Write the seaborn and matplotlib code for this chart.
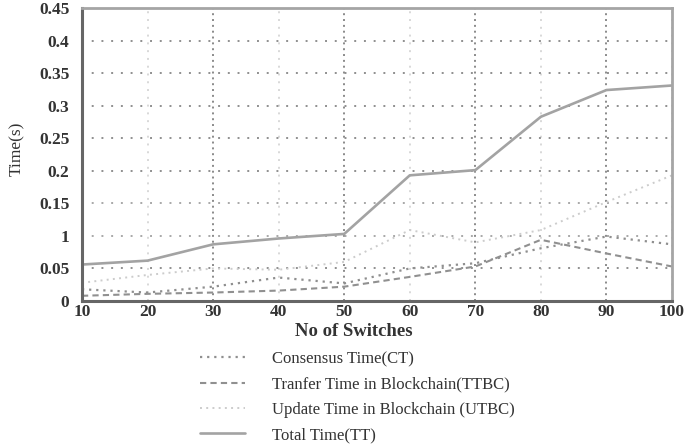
import matplotlib
matplotlib.use("Agg")
import matplotlib.pyplot as plt
import seaborn as sns
import numpy as np

# Number of switches on the x axis
switches = [10, 20, 30, 40, 50, 60, 70, 80, 90, 100]

# Time components in seconds
consensus_time = [0.018, 0.013, 0.022, 0.036, 0.027, 0.050, 0.058, 0.081, 0.099, 0.087]
transfer_time = [0.008, 0.011, 0.013, 0.016, 0.022, 0.037, 0.053, 0.094, 0.073, 0.053]
update_time = [0.028, 0.040, 0.050, 0.048, 0.060, 0.109, 0.090, 0.109, 0.152, 0.193]
total_time = [0.056, 0.062, 0.087, 0.096, 0.103, 0.193, 0.201, 0.283, 0.324, 0.331]

series_labels = [
    "Consensus Time(CT)",
    "Tranfer Time in Blockchain(TTBC)",
    "Update Time in Blockchain (UTBC)",
    "Total Time(TT)",
]

y_ticks = [0, 0.05, 0.1, 0.15, 0.2, 0.25, 0.3, 0.35, 0.4, 0.45]
y_tick_labels = ["0", "0.05", "1", "0.15", "0.2", "0.25", "0.3", "0.35", "0.4", "0.45"]

sns.set_style("white")
plt.rcParams["font.family"] = ["Liberation Serif", "DejaVu Serif"]

fig = plt.figure(figsize=(6.86, 4.45), dpi=100)
ax = fig.add_axes([0.1195, 0.3236, 0.8601, 0.6584])

styles = [
    dict(color="#8f8f8f", linestyle=(0, (1, 2.2)), linewidth=1.6),
    dict(color="#909090", linestyle=(0, (3, 2)), linewidth=1.5),
    dict(color="#cccccc", linestyle=(0, (1, 2.2)), linewidth=1.4),
    dict(color="#a3a3a3", linestyle="-", linewidth=1.9),
]
values = [consensus_time, transfer_time, update_time, total_time]

for vals, lab, st in zip(values, series_labels, styles):
    sns.lineplot(x=switches, y=vals, ax=ax, label=lab, **st)

ax.set_xlim(10, 100)
ax.set_ylim(0, 0.45)
ax.set_xticks(switches)
ax.set_xticklabels([str(s) for s in switches])
ax.set_yticks(y_ticks)
ax.set_yticklabels(y_tick_labels)
ax.tick_params(axis="both", length=0, labelsize=12.5, colors="#333333")
ax.tick_params(axis="y", pad=9)
ax.tick_params(axis="x", pad=2)
for t in ax.get_xticklabels() + ax.get_yticklabels():
    t.set_fontweight("bold")

# Dotted grid: vertical lines alternate between dark and light
ax.grid(True, linestyle=(0, (1, 3)), linewidth=1.4, color="#9a9a9a")
for i, gl in enumerate(ax.xaxis.get_gridlines()):
    if i % 2 == 1:
        gl.set_color("#d8d8d8")
    else:
        gl.set_color("#8a8a8a")
        gl.set_linestyle((0, (1, 2)))
for i, gl in enumerate(ax.yaxis.get_gridlines()):
    gl.set_color("#a8a8a8" if i in (2, 3) else "#8f8f8f")
    gl.set_linestyle((0, (1, 4)))
ax.set_axisbelow(True)

for side in ["left", "bottom"]:
    ax.spines[side].set_color("#666666")
    ax.spines[side].set_linewidth(2.2)
for side in ["top", "right"]:
    ax.spines[side].set_color("#a5a5a5")
    ax.spines[side].set_linewidth(2.0)

ax.set_xlabel("No of Switches", fontsize=13.5, fontweight="bold", color="#333333")
ax.xaxis.set_label_coords(0.461, -0.075)
ax.set_ylabel("Time(s)", fontsize=12.5, color="#333333")
ax.yaxis.set_label_coords(-0.096, 0.52)

handles, labels = ax.get_legend_handles_labels()
ax.get_legend().remove()
fig.legend(
    handles, labels,
    loc="upper left", bbox_to_anchor=(0.2818, 0.226), borderaxespad=0,
    frameon=False, fontsize=12, handlelength=2.7, handletextpad=1.6,
    labelspacing=0.56, labelcolor="#333333",
)

fig.savefig("out.png", dpi=100)
